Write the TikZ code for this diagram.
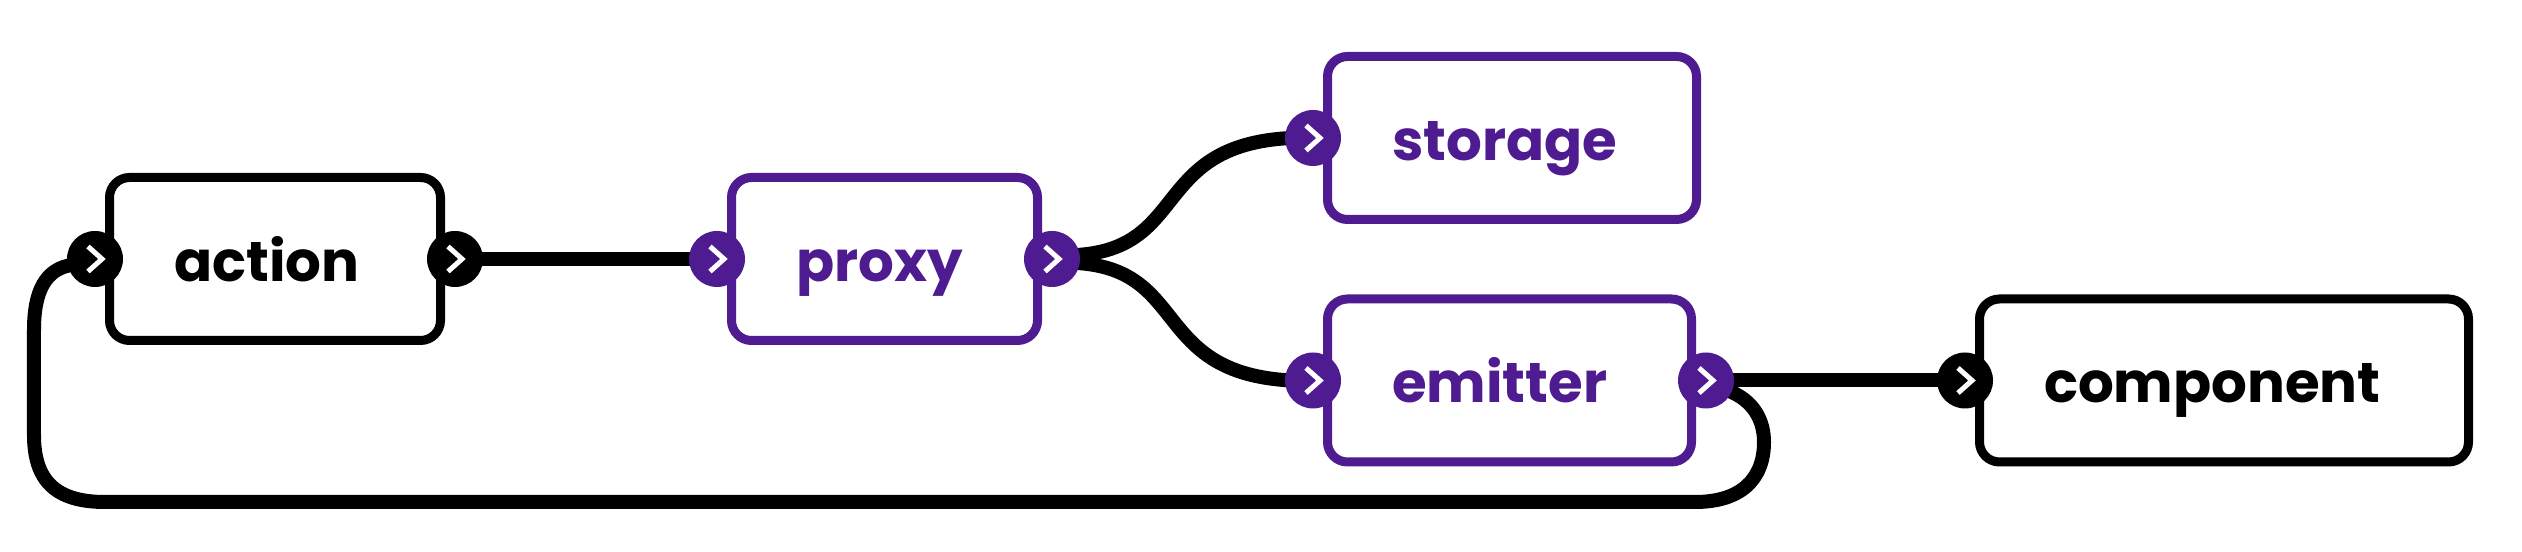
\documentclass[tikz,border=0pt]{standalone}
\usetikzlibrary{backgrounds}
\usepackage{fontspec}
\setmainfont{Poppins}
\definecolor{stagepurple}{HTML}{4F1B91}
\tikzset{
  box/.style={draw, rounded corners=.2cm, line width=.09cm, fill=white,
    minimum height=1.63cm, text width=#1, align=left, inner xsep=.645cm,
    text height=.45cm, text depth=0pt,
    font=\fontsize{16}{18}\selectfont\bfseries},
  port/.style={circle, fill=#1, minimum size=.56cm, inner sep=0pt, outer sep=-.06cm,
    path picture={\draw[white, line width=.05cm]
      ([shift={(-.07,.125)}]path picture bounding box.center) --
      ([shift={(.07,0)}]path picture bounding box.center) --
      ([shift={(-.07,-.125)}]path picture bounding box.center);}},
  wire/.style={line width=.14cm}
}
\begin{document}
\begin{tikzpicture}
\useasboundingbox (0,0) rectangle (25.22,5.52);

% Boxes
\node[box=2.02cm] (action) at (2.75,2.93) {action};
\node[box=1.77cm, draw=stagepurple, text=stagepurple] (proxy) at (8.845,2.93) {proxy};
\node[box=2.40cm, draw=stagepurple, text=stagepurple] (storage) at (15.12,4.14) {storage};
\node[box=2.35cm, draw=stagepurple, text=stagepurple] (emitter) at (15.095,1.715) {emitter};
\node[box=3.60cm] (component) at (22.24,1.715) {component};

% Ports
\node[port=black] (action-in) at ([xshift=-.1cm]action.west) {};
\node[port=black] (action-out) at ([xshift=.1cm]action.east) {};
\node[port=stagepurple] (proxy-in) at ([xshift=-.1cm]proxy.west) {};
\node[port=stagepurple] (proxy-out) at ([xshift=.1cm]proxy.east) {};
\node[port=stagepurple] (storage-in) at ([xshift=-.1cm]storage.west) {};
\node[port=stagepurple] (emitter-in) at ([xshift=-.1cm]emitter.west) {};
\node[port=stagepurple] (emitter-out) at ([xshift=.1cm]emitter.east) {};
\node[port=black] (component-in) at ([xshift=-.1cm]component.west) {};

\begin{scope}[on background layer]
% Straight wires
\draw[wire] (action-out) -- (proxy-in);
\draw[wire] (emitter-out) -- (component-in);

% Fork out of proxy
\draw[wire] (proxy-out.10) .. controls (11.9,3.02) and (11.5,4.07) .. (storage-in.west);
\draw[wire] (proxy-out.-10) .. controls (11.9,2.84) and (11.5,1.79) .. (emitter-in.west);

% Feedback loop
\draw[wire] (emitter-out.-25) .. controls (17.55,1.52) and (17.64,1.3) .. (17.64,1.1)
  .. controls (17.64,.72) and (17.4,.5) .. (16.95,.5) -- (1.05,.5)
  .. controls (.55,.5) and (.34,.72) .. (.34,1.17) -- (.34,2.22)
  .. controls (.34,2.6) and (.45,2.84) .. (action-in.195);
\end{scope}
\end{tikzpicture}
\end{document}
